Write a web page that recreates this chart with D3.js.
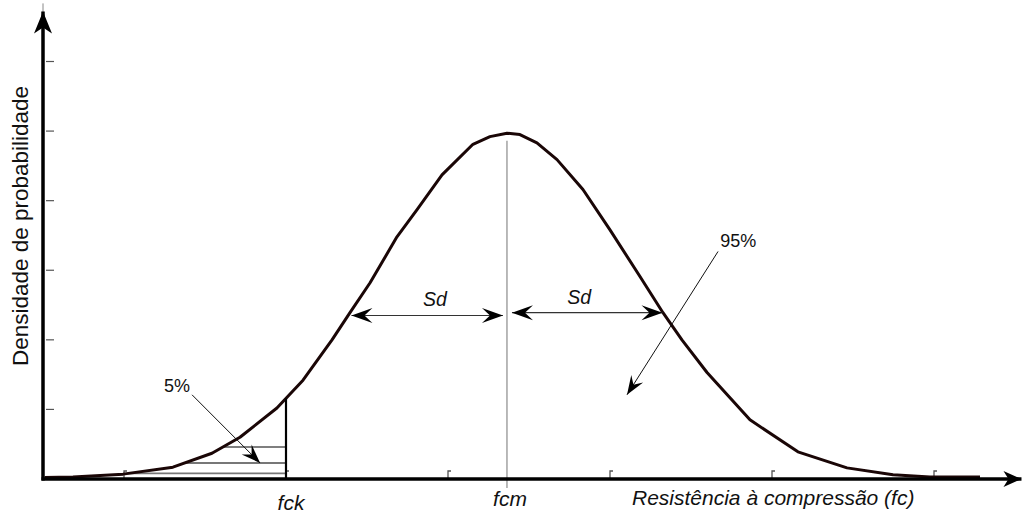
<!DOCTYPE html>
<html>
<head>
<meta charset="utf-8">
<script src="https://cdn.jsdelivr.net/npm/d3@7/dist/d3.min.js"></script>
<style>
  html, body { margin: 0; padding: 0; background: #fff; }
  svg { display: block; }
  text { font-family: Arial, "Liberation Sans", sans-serif; fill: #111; }
</style>
</head>
<body>
<svg id="chart" width="1022" height="513"></svg>
<script>
// Normal distribution of concrete compressive strength (conceptual diagram)
const curveX = [0.1, 1.85, 4.94, 8.02, 10.43, 12.16, 14.44, 16.05, 17.84, 18.95, 20.19, 21.85, 23.09, 24.63, 26.54, 27.59, 28.64, 29.44, 30.49, 31.73, 33.33, 35.0, 36.85, 38.27, 39.44, 40.99, 43.64, 46.6, 49.63, 52.47, 54.75, 57.84];
const curveY = [0.02, 0.03, 0.07, 0.17, 0.37, 0.60, 1.02, 1.42, 2.00, 2.39, 2.82, 3.48, 3.87, 4.37, 4.81, 4.92, 4.97, 4.95, 4.83, 4.59, 4.16, 3.58, 2.91, 2.39, 2.00, 1.53, 0.85, 0.39, 0.16, 0.06, 0.03, 0.03];

const xTicks = [5, 15, 25, 35, 45, 55];
const yTicks = [1, 2, 3, 4, 5, 6];

const fck = 15.0;          // characteristic strength
const fcm = 28.64;         // mean strength
const sd = 9.6;            // standard deviation
const sdLevels = [2.35, 2.39];      // heights of the two Sd arrows
const sdLabelX = [24.2, 33.1];
const hatchLevels = [0.46, 0.23, 0.08];
const hatchColors = ["#000", "#777", "#777"];

const axisLabels = { y: "Densidade de probabilidade", x: "Resistência à compressão (fc)" };
const pctLabels = [
  { text: "5%", x: 8.27, y: 1.25, anchor: "middle", from: [9.2, 1.21], to: [13.4, 0.23] },
  { text: "95%", x: 41.8, y: 3.34, anchor: "start", from: [41.67, 3.27], to: [36.05, 1.21] }
];

const svg = d3.select("#chart");
const x = d3.scaleLinear().domain([0, 60]).range([43, 1015]);
const y = d3.scaleLinear().domain([0, 6]).range([479, 61.5]);

const curve = curveX.map((v, i) => [v, curveY[i]]);

// arrowhead markers (stealth style)
const defs = svg.append("defs");
function marker(id, len, wid, notch) {
  defs.append("marker")
    .attr("id", id)
    .attr("viewBox", `${-len - 2} ${-wid / 2 - 2} ${len + 4} ${wid + 4}`)
    .attr("refX", 0).attr("refY", 0)
    .attr("markerWidth", len + 4).attr("markerHeight", wid + 4)
    .attr("markerUnits", "userSpaceOnUse")
    .attr("orient", "auto-start-reverse")
    .append("path")
    .attr("d", `M0,0 L${-len},${-wid / 2} L${-notch},0 L${-len},${wid / 2} Z`)
    .attr("fill", "#000");
}
marker("headSd", 21, 15, 13);
marker("headNote", 19, 14, 12);
marker("headAxisY", 22, 18, 16);
marker("headAxisX", 18, 16, 13);

// left-branch x at a given density value, by linear interpolation along the curve
function leftX(level) {
  for (let i = 1; i < curve.length; i++) {
    const [x0, y0] = curve[i - 1], [x1, y1] = curve[i];
    if (y0 <= level && y1 >= level) {
      return x0 + (level - y0) / (y1 - y0) * (x1 - x0);
    }
  }
  return curve[0][0];
}
function curveAt(v) {
  for (let i = 1; i < curve.length; i++) {
    const [x0, y0] = curve[i - 1], [x1, y1] = curve[i];
    if (v >= x0 && v <= x1) return y0 + (v - x0) / (x1 - x0) * (y1 - y0);
  }
  return 0;
}

// mean line
svg.append("line")
  .attr("x1", x(fcm)).attr("x2", x(fcm))
  .attr("y1", y(4.86)).attr("y2", y(-0.13))
  .attr("stroke", "#8a8a8a").attr("stroke-width", 1.2);

// hatching of the 5% tail
svg.selectAll(".hatch").data(hatchLevels).join("line")
  .attr("class", "hatch")
  .attr("x1", d => x(leftX(d))).attr("x2", x(fck))
  .attr("y1", d => y(d)).attr("y2", d => y(d))
  .attr("stroke", (d, i) => hatchColors[i])
  .attr("stroke-width", (d, i) => i === 0 ? 1.2 : 1.8);

// y ticks
svg.selectAll(".ytick").data(yTicks).join("line")
  .attr("class", "ytick")
  .attr("x1", x(0) + 3).attr("x2", x(0) + 11)
  .attr("y1", d => y(d)).attr("y2", d => y(d))
  .attr("stroke", "#555").attr("stroke-width", 1.2);

// x ticks
svg.selectAll(".xtick").data(xTicks).join("path")
  .attr("class", "xtick")
  .attr("d", d => `M${x(d)},${y(0) - 1} V${y(0) - 8} H${x(d) + 3}`)
  .attr("fill", "none").attr("stroke", "#555").attr("stroke-width", 1.3);

// density curve
svg.append("path")
  .datum(curve)
  .attr("d", d3.line().x(d => x(d[0])).y(d => y(d[1])).curve(d3.curveLinear))
  .attr("fill", "none").attr("stroke", "#1a0606")
  .attr("stroke-width", 3).attr("stroke-linejoin", "round");

// fck line
svg.append("line")
  .attr("x1", x(fck)).attr("x2", x(fck))
  .attr("y1", y(curveAt(fck))).attr("y2", y(0))
  .attr("stroke", "#000").attr("stroke-width", 2.2);

// axes
svg.append("line")
  .attr("x1", x(0)).attr("x2", x(0))
  .attr("y1", y(6.72) - 8).attr("y2", y(6.72) + 10)
  .attr("stroke", "#888").attr("stroke-width", 1);
svg.append("line")
  .attr("x1", x(0)).attr("x2", x(0))
  .attr("y1", y(0) + 1.5).attr("y2", y(6.72))
  .attr("stroke", "#000").attr("stroke-width", 3.5)
  .attr("marker-end", "url(#headAxisY)");
svg.append("line")
  .attr("x1", x(0) - 1.5).attr("x2", x(60.4))
  .attr("y1", y(0)).attr("y2", y(0))
  .attr("stroke", "#000").attr("stroke-width", 3.5)
  .attr("marker-end", "url(#headAxisX)");

// Sd arrows
const sdSpans = [[fcm - sd, fcm], [fcm, fcm + sd]];
svg.selectAll(".sd").data(sdSpans).join("line")
  .attr("class", "sd")
  .attr("x1", (d, i) => x(d[0]) + (i === 1 ? 5 : 0))
  .attr("x2", (d, i) => x(d[1]) - (i === 0 ? 4 : 0))
  .attr("y1", (d, i) => y(sdLevels[i])).attr("y2", (d, i) => y(sdLevels[i]))
  .attr("stroke", "#333").attr("stroke-width", 1.2)
  .attr("marker-start", "url(#headSd)").attr("marker-end", "url(#headSd)");
svg.selectAll(".sdlab").data(sdLabelX).join("text")
  .attr("class", "sdlab")
  .attr("x", d => x(d)).attr("y", (d, i) => y(sdLevels[i]) - 9)
  .attr("text-anchor", "middle").attr("font-size", 19.5).attr("font-style", "italic")
  .text("Sd");

// percentage annotations
svg.selectAll(".pctline").data(pctLabels).join("line")
  .attr("class", "pctline")
  .attr("x1", d => x(d.from[0])).attr("y1", d => y(d.from[1]))
  .attr("x2", d => x(d.to[0])).attr("y2", d => y(d.to[1]))
  .attr("stroke", "#111").attr("stroke-width", 1)
  .attr("marker-end", "url(#headNote)");
svg.selectAll(".pct").data(pctLabels).join("text")
  .attr("class", "pct")
  .attr("x", d => x(d.x)).attr("y", d => y(d.y))
  .attr("text-anchor", d => d.anchor).attr("font-size", 18)
  .text(d => d.text);

// axis labels
svg.append("text")
  .attr("transform", `translate(28, 226) rotate(-90)`)
  .attr("text-anchor", "middle").attr("font-size", 22.5)
  .text(axisLabels.y);
svg.append("text")
  .attr("x", x(fck) + 5).attr("y", 510)
  .attr("text-anchor", "middle").attr("font-size", 21).attr("font-style", "italic")
  .text("fck");
svg.append("text")
  .attr("x", x(fcm) + 3).attr("y", 506)
  .attr("text-anchor", "middle").attr("font-size", 21).attr("font-style", "italic")
  .text("fcm");
svg.append("text")
  .attr("x", 632).attr("y", 505)
  .attr("font-size", 21).attr("font-style", "italic")
  .text(axisLabels.x);
</script>
</body>
</html>
